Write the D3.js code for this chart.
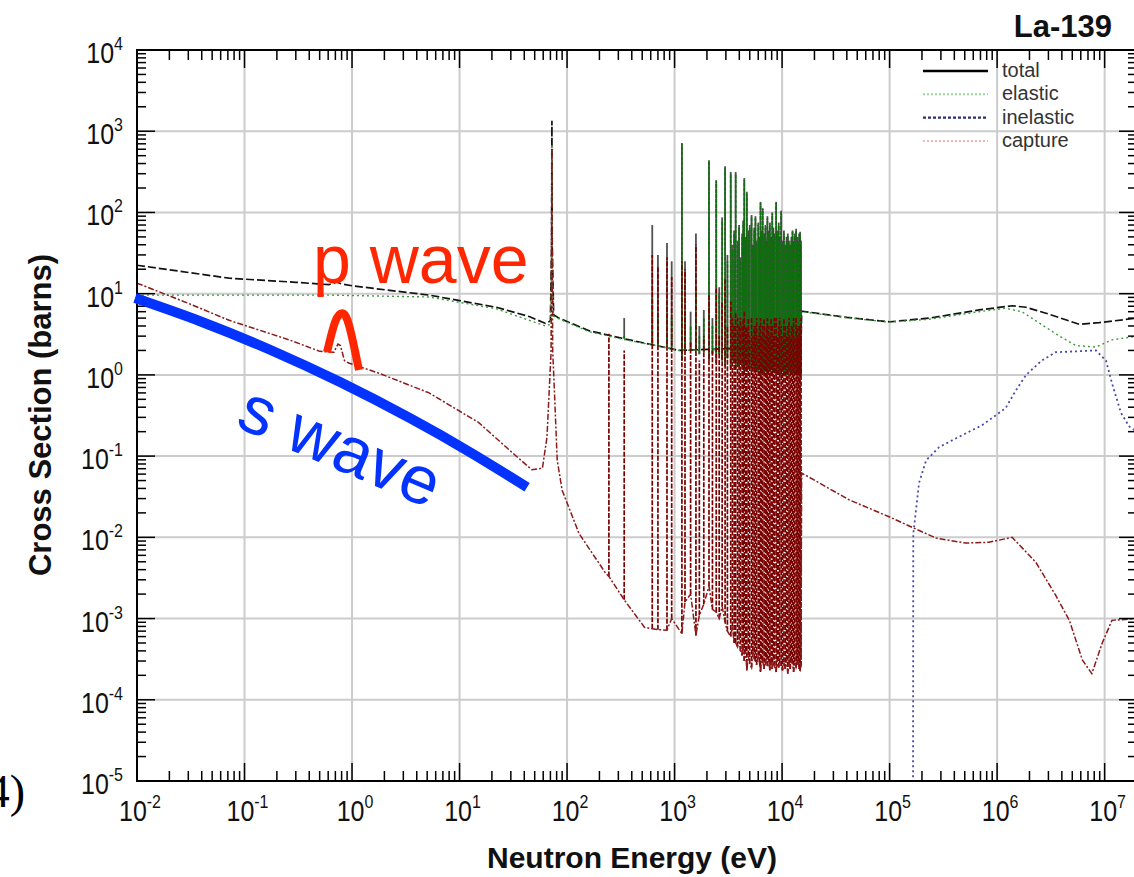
<!DOCTYPE html>
<html>
<head>
<meta charset="utf-8">
<script src="https://cdn.jsdelivr.net/npm/d3@7/dist/d3.min.js"></script>
<style>
  body { margin: 0; background: #fff; }
  svg { display: block; }
</style>
</head>
<body>
<div id="chart"></div>
<script>
// ---- data: [energy eV, cross section barns] ----
const totalXS = [
  [0.01, 22.4], [0.072, 15.5], [0.3, 13.8], [0.61, 12.9], [0.72, 13.9], [0.8, 13.2], [1.0, 12.5],
  [5.2, 9.6], [22, 6.8], [45, 5.2], [63, 4.3], [70, 4.6], [71.8, 40], [72.3, 1350], [72.8, 40],
  [75, 5.5], [84, 5.0], [160, 3.5], [350, 2.76], [670, 2.3], [1100, 2.0], [3000, 2.1], [8000, 2.3],
  [15000, 2.4], [15200, 6.1], [4e4, 5.1], [1e5, 4.5], [2.35e5, 5.0], [6.8e5, 6.3], [1.38e6, 7.1],
  [1.86e6, 6.8], [2.9e6, 5.7], [5.8e6, 4.2], [8.9e6, 4.4], [2e7, 5.0]
];
const elasticXS = [
  [0.01, 9.6], [0.61, 9.6], [5.2, 9.1], [22, 6.5], [63, 4.0], [70, 4.2], [71.8, 25], [72.3, 700],
  [72.8, 30], [75, 5.3], [84, 4.9], [160, 3.4], [350, 2.7], [670, 2.3], [1100, 2.0], [3000, 2.05],
  [8000, 2.2], [15000, 2.3], [15200, 6.0], [4e4, 5.05], [1e5, 4.45], [2.35e5, 4.85], [6.8e5, 6.0],
  [1.2e6, 6.6], [1.7e6, 6.0], [3.8e6, 3.0], [5.4e6, 2.3], [8.3e6, 2.2], [1.17e7, 2.7], [2e7, 3.0]
];
const inelasticXS = [
  [1.65e5, 1e-6], [1.66e5, 0.011], [1.88e5, 0.047], [2.19e5, 0.089], [2.89e5, 0.129], [4.16e5, 0.166],
  [7.24e5, 0.24], [1.2e6, 0.39], [1.5e6, 0.65], [1.86e6, 1.0], [2.6e6, 1.5], [3.5e6, 1.9],
  [8.3e6, 2.0], [1.03e7, 1.5], [1.17e7, 0.79], [1.42e7, 0.34], [1.7e7, 0.23], [2e7, 0.2]
];
const captureXS = [
  [0.01, 13.5], [0.03, 7.6], [0.072, 4.7], [0.26, 2.7], [0.5, 1.95], [0.68, 1.9], [0.74, 2.4],
  [0.78, 2.3], [0.85, 1.5], [0.93, 1.4], [1.78, 1.05], [5.2, 0.6], [15, 0.26], [31, 0.11],
  [47, 0.068], [59, 0.071], [65, 0.17], [71, 1.9], [72.3, 600], [73.5, 2.0], [76, 0.71],
  [81, 0.089], [90, 0.038], [129, 0.0112], [229, 0.0036]
];
const captureTailXS = [
  [15200, 0.062], [2.2e4, 0.047], [4.2e4, 0.029], [1e5, 0.0178], [1.7e5, 0.0129], [2.7e5, 0.0098],
  [5.1e5, 0.0085], [8.4e5, 0.0087], [1.38e6, 0.01], [2.3e6, 0.0049], [3.5e6, 0.00194],
  [4.7e6, 9.5e-4], [6.2e6, 3.1e-4], [7.6e6, 2.1e-4], [9.5e6, 5e-4], [1.17e7, 9.5e-4], [2e7, 1e-3]
];
// resolved resonances: [E, totalPeak, elasticPeak, elasticDip, capturePeak, captureFloor]
const resonances = [
  [245, 2.9, 2.9, 2.9, 3.2, 3.3e-3], [340, 5.0, 3.0, 2.8, 2.0, 1.7e-3], [525, 2.4, 2.4, 2.4, 7.8e-4, 7.8e-4],
  [620, 70, 9, 2.4, 30, 7.5e-4], [700, 30, 5, 2.3, 22, 7.3e-4], [850, 42, 7, 2.2, 28, 7.2e-4],
  [940, 25, 5, 2.2, 16, 1.0e-3], [1170, 715, 700, 1.5, 25, 6.5e-4], [1250, 25, 6, 2.0, 20, 1.6e-3],
  [1410, 6, 4, 2.0, 2.5, 2.0e-3], [1580, 55, 12, 2.0, 40, 6.2e-4], [1700, 4, 3, 1.8, 1.5, 1.1e-3],
  [1870, 6.3, 5, 1.9, 3, 1.5e-3], [2090, 440, 420, 1.5, 10, 2.5e-3], [2250, 5, 4, 1.8, 2, 1.3e-3],
  [2440, 250, 240, 1.4, 12, 1.2e-3], [2600, 12, 10, 1.8, 3, 1.0e-3], [2770, 87, 80, 1.5, 8, 1.4e-3],
  [2950, 370, 350, 1.3, 15, 9e-4], [3100, 30, 25, 1.6, 4, 7e-4], [3330, 315, 300, 1.2, 8, 6e-4],
  [3450, 40, 35, 1.5, 5, 8e-4], [3580, 60, 55, 1.4, 4, 5e-4], [3700, 315, 300, 1.2, 6, 5e-4],
  [3850, 45, 40, 1.4, 5, 4.5e-4], [3980, 70, 65, 1.3, 4, 6e-4], [4100, 28, 25, 1.5, 5, 4e-4],
  [4250, 55, 50, 1.3, 4, 3.5e-4], [4350, 80, 75, 1.2, 5, 5e-4], [4450, 265, 250, 1.1, 6, 3e-4],
  [4580, 50, 45, 1.3, 4, 4e-4], [4700, 180, 170, 1.1, 4, 2.3e-4], [4850, 60, 55, 1.2, 5, 3.5e-4],
  [5000, 70, 65, 1.2, 3, 2.8e-4], [5200, 93, 90, 1.1, 5, 2.5e-4], [5350, 40, 36, 1.3, 3, 4e-4],
  [5500, 65, 60, 1.2, 4, 3.2e-4], [5650, 90, 85, 1.1, 4, 3e-4], [5800, 45, 40, 1.2, 5, 2.7e-4],
  [6000, 75, 70, 1.1, 3, 3.5e-4], [6150, 50, 45, 1.2, 4, 2.9e-4], [6300, 135, 130, 1.0, 5, 2.2e-4],
  [6450, 60, 55, 1.1, 3, 3.1e-4], [6600, 113, 110, 1.0, 4, 3e-4], [6800, 55, 50, 1.1, 5, 2.4e-4],
  [7000, 70, 65, 1.1, 3, 2.8e-4], [7150, 45, 40, 1.2, 4, 3.3e-4], [7300, 90, 85, 1.0, 5, 2.6e-4],
  [7500, 60, 55, 1.1, 4, 3e-4], [7700, 75, 70, 1.1, 3, 2.3e-4], [7900, 50, 45, 1.2, 5, 2.9e-4],
  [8100, 100, 95, 1.0, 4, 2.4e-4], [8300, 65, 60, 1.1, 3, 3.2e-4], [8500, 55, 50, 1.1, 5, 2.6e-4],
  [8800, 135, 130, 1.0, 5, 2.2e-4], [9000, 60, 55, 1.1, 3, 3e-4], [9300, 75, 70, 1.0, 4, 2.5e-4],
  [9500, 50, 45, 1.1, 5, 2.8e-4], [9800, 105, 100, 1.0, 4, 2.6e-4], [10100, 45, 40, 1.1, 3, 2.3e-4],
  [10400, 60, 55, 1.0, 5, 2.9e-4], [10700, 40, 36, 1.1, 4, 2.4e-4], [11000, 50, 45, 1.0, 3, 3.1e-4],
  [11300, 55, 52, 1.0, 4, 2.1e-4], [11600, 45, 40, 1.1, 5, 2.7e-4], [11900, 40, 36, 1.1, 3, 2.4e-4],
  [12200, 50, 45, 1.0, 4, 3e-4], [12500, 60, 58, 1.0, 4, 2.8e-4], [12800, 45, 40, 1.1, 5, 2.2e-4],
  [13100, 55, 50, 1.0, 3, 2.9e-4], [13500, 63, 60, 1.0, 5, 2.5e-4], [13800, 50, 45, 1.0, 4, 2.7e-4],
  [14100, 45, 40, 1.1, 3, 3e-4], [14400, 55, 50, 1.0, 4, 2.4e-4], [14700, 58, 55, 1.0, 4, 2.3e-4],
  [15000, 45, 40, 1.0, 5, 2.6e-4]
];
// hand-drawn annotations, in data coordinates
const sWaveGuide = [[0.00958, 8.83], [0.0386, 4.58], [0.1726, 2.04], [0.773, 0.815], [3.463, 0.293], [12.52, 0.1117], [42.5, 0.0415]];
const pWaveMark = [[0.585, 1.9], [0.695, 4.47], [0.807, 5.75], [0.937, 4.1], [1.16, 1.15]];

const xDecades = [-2, -1, 0, 1, 2, 3, 4, 5, 6, 7];
const yDecades = [-5, -4, -3, -2, -1, 0, 1, 2, 3, 4];
const legendLabels = ["total", "elastic", "inelastic", "capture"];

// ---- chart ----
const W = 1134, H = 877;
const x = d3.scaleLog().domain([1e-2, 2e7]).range([137, 1137]);
const y = d3.scaleLog().domain([1e-5, 1e4]).range([781, 50]);
const [x0, x1] = x.range();
const [y0, y1] = y.range();

const svg = d3.select("#chart").append("svg")
  .attr("width", W).attr("height", H)
  .style("font-family", "'Liberation Sans', Arial, Helvetica, sans-serif");

svg.append("defs").append("clipPath").attr("id", "plot")
  .append("rect").attr("x", x0).attr("y", y1).attr("width", x1 - x0).attr("height", y0 - y1);

// grid
const grid = svg.append("g").attr("stroke", "#cccccc").attr("stroke-width", 2);
grid.selectAll(".gx").data(xDecades).join("line")
  .attr("x1", d => x(10 ** d)).attr("x2", d => x(10 ** d)).attr("y1", y1).attr("y2", y0);
grid.selectAll(".gy").data(yDecades).join("line")
  .attr("x1", x0).attr("x2", x1).attr("y1", d => y(10 ** d)).attr("y2", d => y(10 ** d));

const line = d3.line().x(d => x(d[0])).y(d => y(d[1]));
const smooth = d3.line().x(d => x(d[0])).y(d => y(d[1])).curve(d3.curveNatural);
const data = svg.append("g").attr("clip-path", "url(#plot)").attr("fill", "none");

data.append("path").datum(totalXS).attr("d", line)
  .attr("stroke", "#111").attr("stroke-width", 1.7).attr("stroke-dasharray", "8,3");
data.append("path").datum(elasticXS).attr("d", line)
  .attr("stroke", "#3d9b3d").attr("stroke-width", 1.4).attr("stroke-dasharray", "2,3");
data.append("path").datum(inelasticXS).attr("d", line)
  .attr("stroke", "#4a4aa8").attr("stroke-width", 1.8).attr("stroke-dasharray", "2,3");

// resonance spikes
const spikes = data.append("g");
spikes.selectAll(".t").data(resonances).join("path")
  .attr("d", r => line([[r[0], r[3]], [r[0], r[1]]]))
  .attr("stroke", "#333").attr("stroke-opacity", 0.85).attr("stroke-width", 1.8);
spikes.selectAll(".e").data(resonances).join("path")
  .attr("d", r => line([[r[0], r[3]], [r[0], r[2]]]))
  .attr("stroke", "#0d700d").attr("stroke-width", 1.7).attr("stroke-dasharray", "4,1");
spikes.selectAll(".c").data(resonances).join("path")
  .attr("d", r => line([[r[0], r[5]], [r[0], r[4]]]))
  .attr("stroke", "#7a0000").attr("stroke-width", 1.7).attr("stroke-dasharray", "5,1.5");

const captureAll = captureXS.concat(resonances.map(r => [r[0], r[5]]), captureTailXS);
data.append("path").datum(captureAll).attr("d", line)
  .attr("stroke", "#8b1a1a").attr("stroke-width", 1.5).attr("stroke-dasharray", "6,2,2,2");

// frame and ticks
svg.append("rect").attr("x", x0).attr("y", y1).attr("width", x1 - x0).attr("height", y0 - y1)
  .attr("fill", "none").attr("stroke", "#000").attr("stroke-width", 2);

const ticks = svg.append("g").attr("stroke", "#000").attr("stroke-width", 1.5);
const xTickVals = x.ticks().filter(v => v >= 1e-2 && v <= 2e7);
const yTickVals = y.ticks();
const isMajor = v => Math.abs(Math.log10(v) - Math.round(Math.log10(v))) < 1e-9;
xTickVals.forEach(v => {
  const L = isMajor(v) ? 18 : 10;
  ticks.append("line").attr("x1", x(v)).attr("x2", x(v)).attr("y1", y0).attr("y2", y0 - L);
  ticks.append("line").attr("x1", x(v)).attr("x2", x(v)).attr("y1", y1).attr("y2", y1 + L);
});
yTickVals.forEach(v => {
  const L = isMajor(v) ? 18 : 9;
  ticks.append("line").attr("x1", x0).attr("x2", x0 + L).attr("y1", y(v)).attr("y2", y(v));
  ticks.append("line").attr("x1", x1).attr("x2", x1 - L).attr("y1", y(v)).attr("y2", y(v));
});

// tick labels
function powLabel(g, d) {
  g.append("tspan").text("10");
  g.append("tspan").attr("font-size", 16).attr("dy", -11).text(d);
}
svg.append("g").selectAll("text").data(xDecades).join("text")
  .attr("transform", d => `translate(${x(10 ** d) + 3},821) scale(1,1.18)`)
  .attr("text-anchor", "middle").attr("font-size", 25).attr("fill", "#111")
  .each(function (d) { powLabel(d3.select(this), d); });
svg.append("g").selectAll("text").data(yDecades).join("text")
  .attr("transform", d => `translate(123,${y(10 ** d) + 13}) scale(1,1.18)`)
  .attr("text-anchor", "end").attr("font-size", 25).attr("fill", "#111")
  .each(function (d) { powLabel(d3.select(this), d); });

// titles
svg.append("text").attr("x", 632).attr("y", 868).attr("text-anchor", "middle")
  .attr("font-size", 30).attr("font-weight", "bold").attr("fill", "#111").text("Neutron Energy (eV)");
svg.append("text").attr("transform", "translate(51,415) rotate(-90)").attr("text-anchor", "middle")
  .attr("font-size", 31).attr("font-weight", "bold").attr("fill", "#111").text("Cross Section (barns)");
svg.append("text").attr("x", 1112).attr("y", 37).attr("text-anchor", "end")
  .attr("font-size", 31).attr("font-weight", "bold").attr("fill", "#111").text("La-139");
svg.append("text").attr("x", 25).attr("y", 807).attr("text-anchor", "end")
  .attr("font-size", 46).attr("font-family", "'Liberation Serif', 'Times New Roman', serif")
  .attr("fill", "#000").text("(4)");

// legend
const legendStyles = [
  { stroke: "#000", width: 2.5, dash: null },
  { stroke: "#9ad79a", width: 2, dash: "2,2" },
  { stroke: "#2c2c7a", width: 2.2, dash: "3,2" },
  { stroke: "#f2b4b4", width: 2, dash: "2,2" }
];
const leg = svg.append("g");
legendLabels.forEach((name, i) => {
  const yy = 71 + i * 23.3;
  leg.append("line").attr("x1", 923).attr("x2", 988).attr("y1", yy).attr("y2", yy)
    .attr("stroke", legendStyles[i].stroke).attr("stroke-width", legendStyles[i].width)
    .attr("stroke-dasharray", legendStyles[i].dash);
  leg.append("text").attr("x", 1002).attr("y", yy + 6).attr("font-size", 20)
    .attr("fill", "#333").text(name);
});

// annotations
svg.append("path").datum(sWaveGuide).attr("d", smooth)
  .attr("fill", "none").attr("stroke", "#0433ff").attr("stroke-width", 10);
svg.append("path").datum(pWaveMark).attr("d", smooth)
  .attr("fill", "none").attr("stroke", "#ff2600").attr("stroke-width", 8);
svg.append("text").attr("x", 313).attr("y", 283).attr("font-size", 68)
  .attr("fill", "#ff2600").text("p wave");
svg.append("text").attr("transform", "translate(234,426) rotate(23)").attr("font-size", 68)
  .attr("fill", "#0433ff").text("s wave");
</script>
</body>
</html>
